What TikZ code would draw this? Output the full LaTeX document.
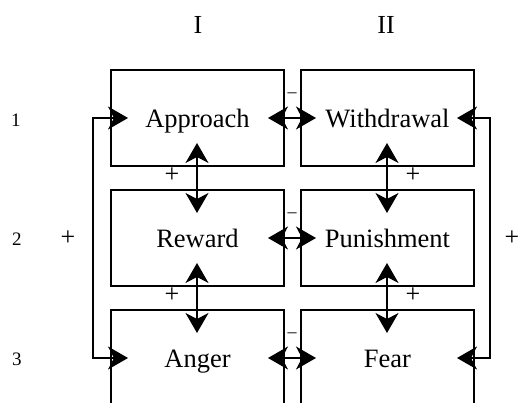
\documentclass[tikz,border=0pt]{standalone}
\usepackage{fontspec}
\setmainfont{Liberation Serif}
\usetikzlibrary{arrows.meta}
\begin{document}
\begin{tikzpicture}[x=1pt,y=-1pt,
  box/.style={draw,line width=1.2pt,minimum width=173pt,minimum height=96pt,inner sep=0pt,text height=20pt,text depth=0pt,font=\fontsize{26.5}{26.5}\selectfont},
  big/.style={font=\fontsize{26}{26}\selectfont},
  num/.style={font=\fontsize{19}{19}\selectfont},
  plus/.style={font=\fontsize{26}{26}\selectfont},
  minus/.style={font=\fontsize{18}{18}\selectfont},
  conn/.style={line width=1.2pt,{Stealth[length=20pt,width=23pt,inset=6pt]}-{Stealth[length=20pt,width=23pt,inset=6pt]}}]
\useasboundingbox (0,0) rectangle (520,403);
\clip (0,0) rectangle (520,403);
% boxes
\node[box] (A) at (197.5,118) {Approach};
\node[box] (W) at (387.5,118) {Withdrawal};
\node[box] (R) at (197.5,238) {Reward};
\node[box] (P) at (387.5,238) {Punishment};
\node[box] (G) at (197.5,358) {Anger};
\node[box] (F) at (387.5,358) {Fear};
% column and row labels
\node[big] (cI) at (198,25) {I};
\node[big] (cII) at (386,25) {II};
\node[num] (r1) at (16,120) {1};
\node[num] (r2) at (17,239) {2};
\node[num] (r3) at (17,359) {3};
\node[plus] (pl) at (68,238) {+};
\node[plus] (pr) at (512,238) {+};
\node[plus] (p1) at (172,175) {+};
\node[plus] (p2) at (413,175) {+};
\node[plus] (p3) at (172,295) {+};
\node[plus] (p4) at (413,295) {+};
\node[minus] (m1) at (292,95) {–};
\node[minus] (m2) at (292,215) {–};
\node[minus] (m3) at (292,335) {–};
% connector endpoints
\coordinate (a1) at (268,118); \coordinate (b1) at (316,118);
\coordinate (a2) at (268,238); \coordinate (b2) at (316,238);
\coordinate (a3) at (268,358); \coordinate (b3) at (316,358);
\coordinate (v1t) at (197,143); \coordinate (v1b) at (197,213);
\coordinate (v2t) at (197,263); \coordinate (v2b) at (197,333);
\coordinate (w1t) at (387,143); \coordinate (w1b) at (387,213);
\coordinate (w2t) at (387,263); \coordinate (w2b) at (387,333);
\coordinate (la) at (128,118); \coordinate (lg) at (128,358);
\coordinate (rw) at (457,118); \coordinate (rf) at (457,358);
% connectors
\draw[conn] (a1) -- (b1);
\draw[conn] (a2) -- (b2);
\draw[conn] (a3) -- (b3);
\draw[conn] (v1t) -- (v1b);
\draw[conn] (v2t) -- (v2b);
\draw[conn] (w1t) -- (w1b);
\draw[conn] (w2t) -- (w2b);
\draw[conn] (la) -| (93,358) -- (lg);
\draw[conn] (rw) -| (490,358) -- (rf);
\end{tikzpicture}
\end{document}
